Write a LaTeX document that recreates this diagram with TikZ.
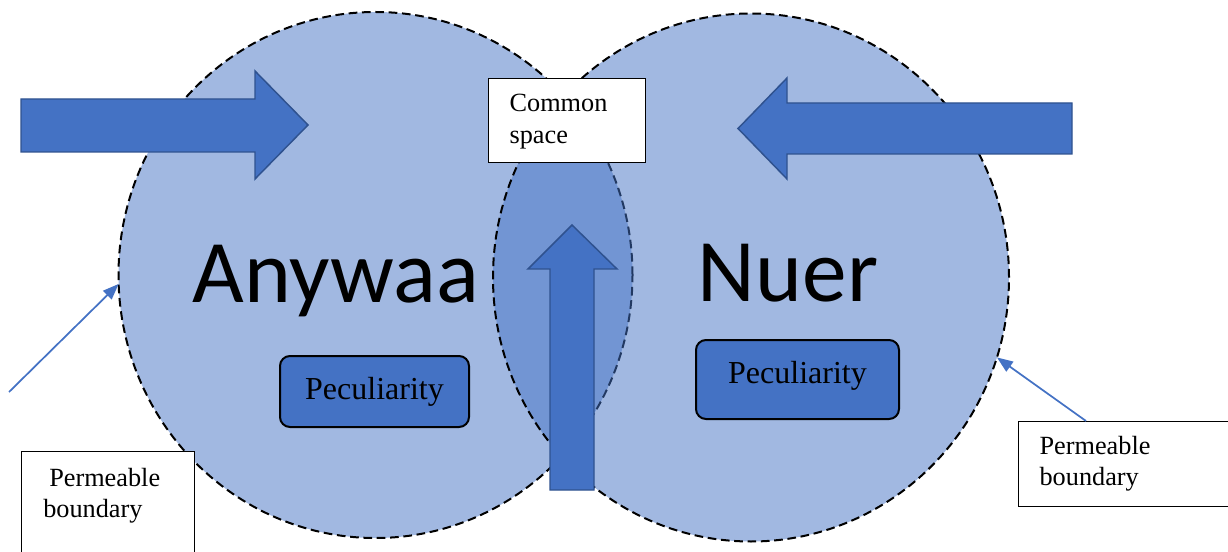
\documentclass[tikz,border=0pt]{standalone}
\usepackage{fontspec}
\setmainfont{Liberation Serif}
\newfontfamily\calibrifont{Carlito}
\usetikzlibrary{shapes.geometric,arrows.meta}

\definecolor{accent}{RGB}{68,114,196}
\definecolor{accentdark}{RGB}{47,82,143}

\tikzset{every picture/.style={line width=0.75pt},
  group/.style={ellipse, draw, fill=accent, fill opacity=0.5, line width=1.5pt, dash pattern=on 6.5pt off 3.5pt, outer sep=0pt, inner sep=0pt},
  bigname/.style={font=\calibrifont\fontsize{67}{70}\selectfont, inner sep=0pt},
  blockarrow/.style={draw=accentdark, fill=accent, line width=1.1pt},
  peculiar/.style={draw, fill=accent, rounded corners=7.5pt, line width=1.5pt, inner sep=0pt, font=\fontsize{24}{28}\selectfont},
  note/.style={draw, fill=white, line width=0.9pt, align=left, font=\fontsize{19.7}{23.5}\selectfont},
  pointer/.style={draw=accent, line width=1.3pt, -{Triangle[length=12pt,width=9pt]}}
}

\begin{document}
\begin{tikzpicture}[x=0.75pt,y=0.75pt,yscale=-1,xscale=1]
\path [use as bounding box] (0,0) rectangle (1228,552);
\clip (0,0) rectangle (1228,552);

%Shape: Circle
\node (anywaaC) [group, minimum width=385.5pt, minimum height=394.5pt] at (375.5,275) {};
%Shape: Circle
\node (nuerC) [group, minimum width=387pt, minimum height=396pt] at (751,277.5) {};

% Text Node
\draw (336,303) node (anywaa) [bigname, anchor=base] {Anywaa};
% Text Node
\draw (788,302) node (nuer) [bigname, anchor=base] {Nuer};

%Rounded Rect
\node (pecA) [peculiar, minimum width=141.75pt, minimum height=53.25pt] at (374.5,391.5) {Peculiarity};
%Rounded Rect
\node (pecN) [peculiar, minimum width=152.25pt, minimum height=59.25pt, text depth=11pt] at (797.5,379.5) {Peculiarity};

%Right Arrow
\draw [blockarrow] (21,99) -- (255,99) -- (255,71) -- (308,125) -- (255,179) -- (255,152) -- (21,152) -- cycle;
%Left Arrow
\draw [blockarrow] (1072,103) -- (787,103) -- (787,78) -- (738,128.5) -- (787,179) -- (787,154) -- (1072,154) -- cycle;
%Up Arrow
\draw [blockarrow] (550,490) -- (550,269) -- (528,269) -- (572,225) -- (617,269) -- (594,269) -- (594,490) -- cycle;

% Text Node
\node (common) [note, anchor=north west, text width=86pt, inner xsep=15.75pt, inner ysep=12pt, text depth=25.7pt] at (488,78) {Common\\space};
% Text Node
\node (leftnote) [note, anchor=north west, text width=97pt, inner xsep=16.5pt, inner ysep=12.5pt, text depth=60pt] at (20.7,451) {\hspace*{4.5pt}Permeable\\boundary};
% Text Node
\node (rightnote) [note, anchor=north west, text width=148.5pt, inner xsep=15.75pt, inner ysep=11pt] at (1018,421) {Permeable\\boundary};

%Straight Lines
\coordinate (lfree) at (9,392);
\coordinate (rfree) at (1086,421);
\draw [pointer] (lfree) -- (anywaaC.182);
\draw [pointer] (rfree) -- (nuerC.-18);

\end{tikzpicture}
\end{document}
